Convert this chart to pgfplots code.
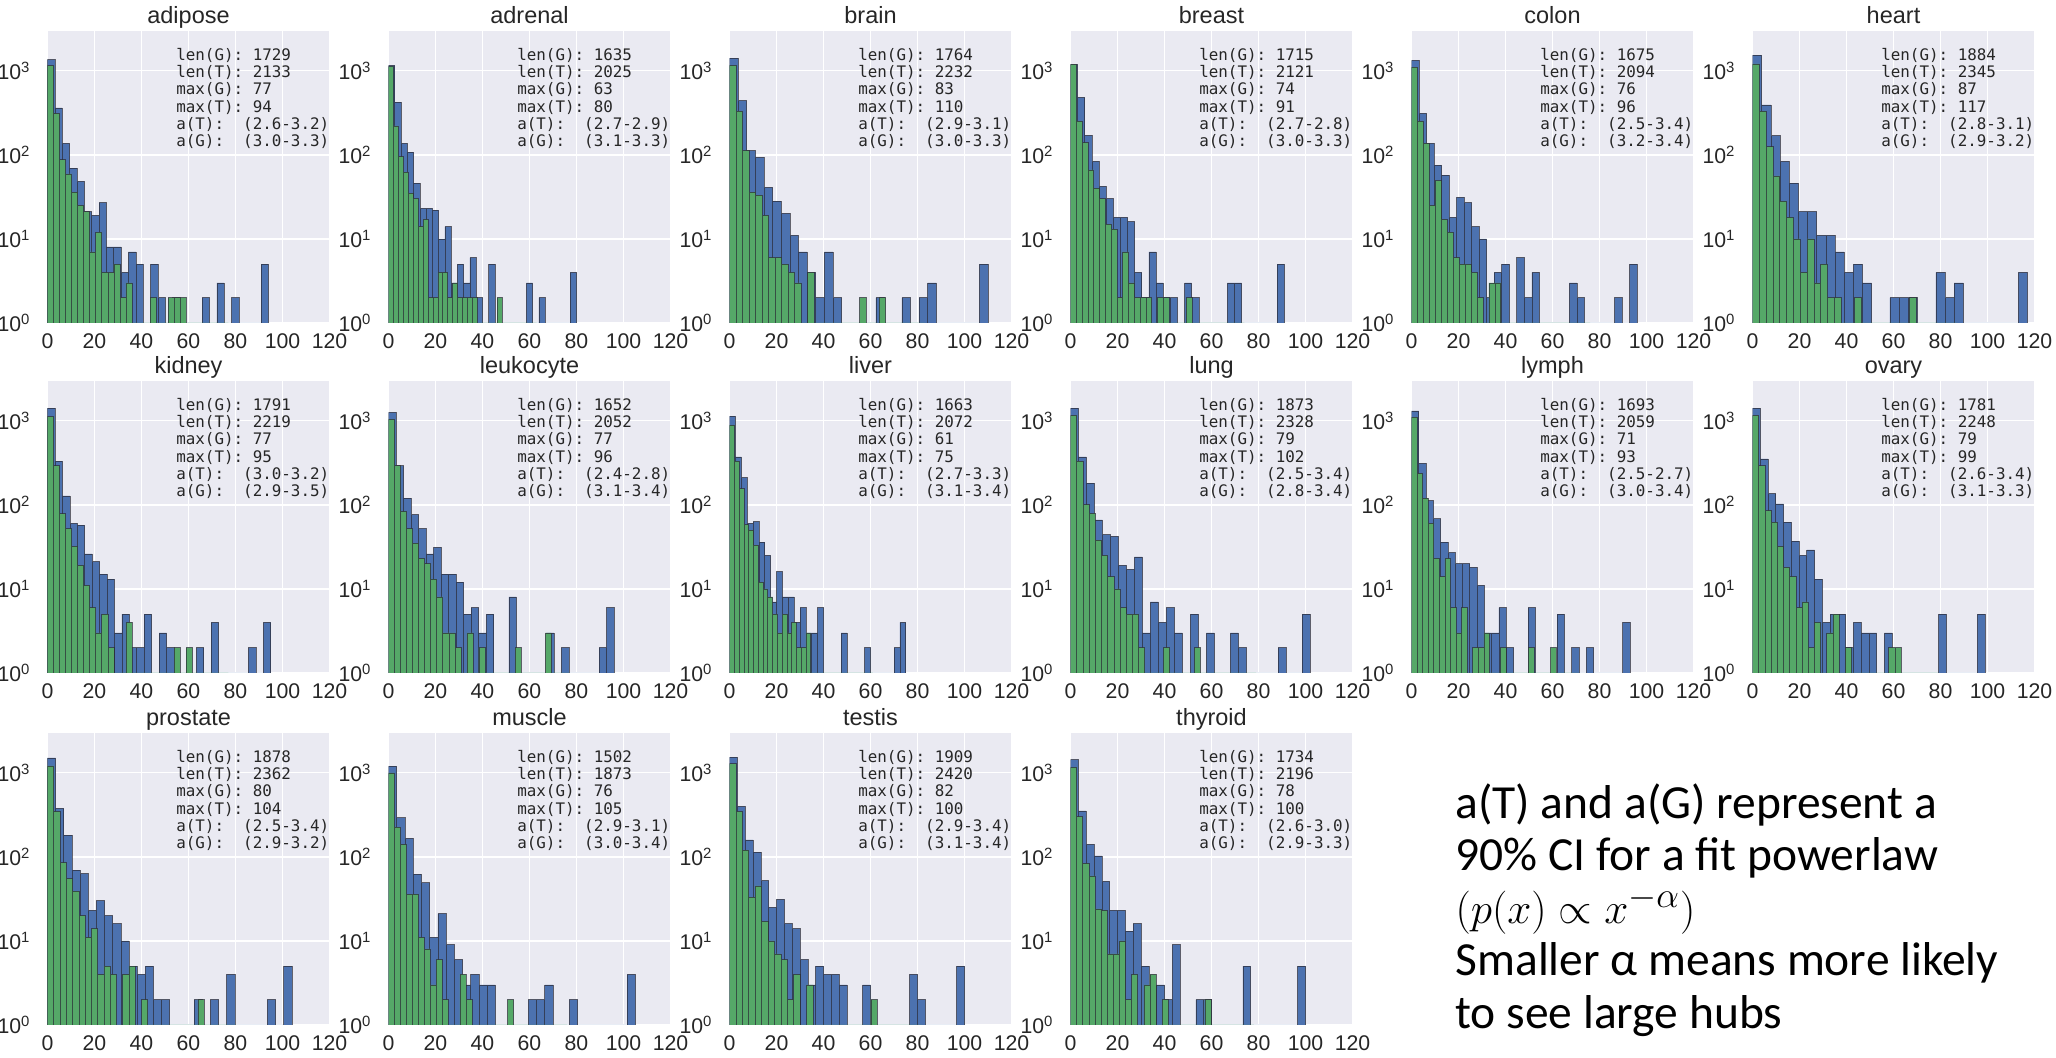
\documentclass[border=0pt]{standalone}
\usepackage{fontspec}
\setmainfont{Liberation Sans}
\newfontfamily\monof{DejaVu Sans Mono}
\newfontfamily\calf{Carlito}
\usepackage{pgfplots}
\pgfplotsset{compat=1.18}
\definecolor{bgc}{HTML}{EAEAF2}
\definecolor{tblue}{HTML}{4C72B0}
\definecolor{ggreen}{HTML}{55A868}
\definecolor{edgec}{HTML}{2A2A35}
\definecolor{tc}{HTML}{262626}
\pgfplotsset{
  hax/.style={
    scale only axis, width=112.8pt, height=116.8pt,
    xmin=0, xmax=120, ymin=1, ymax=2950,
    axis background/.style={fill=bgc},
    axis line style={draw=none},
    major tick length=0pt, tick style={draw=none},
    grid=major, major grid style={draw=white, line width=0.7pt},
    xtick={0,20,40,60,80,100,120},
    xticklabels={0,20,40,60,80,100,120},
    ytick={1,10,100,1000},
    yticklabels={10\textsuperscript{0},10\textsuperscript{1},10\textsuperscript{2},10\textsuperscript{3}},
    ticklabel style={font=\fontsize{8.5}{9}\selectfont, text=tc},
    xticklabel style={yshift=-0.6pt},
    yticklabel style={xshift=-3.2pt},
    every axis title/.style={font=\fontsize{9.4}{10}\selectfont, text=tc, at={(0.5,1)}, anchor=base, yshift=2.9pt},
  }
}
\newcommand{\TT}[2]{\addplot[ybar interval, fill=tblue, draw=edgec, draw opacity=0.7, line width=0.25pt] table[header=false, row sep=\\, x expr=\coordindex*#1, y index=0] {#2};}
\newcommand{\GG}[2]{\addplot[ybar interval, fill=ggreen, draw=edgec, draw opacity=0.7, line width=0.25pt] table[header=false, row sep=\\, x expr=\coordindex*#1, y index=0] {#2};}
\newcommand{\ann}[6]{\node[anchor=north west, inner sep=0pt, align=left, text=tc, font=\monof\fontsize{6.35}{6.9}\selectfont] at (rel axis cs:0.455,0.943) {len(G): #1\\len(T): #2\\max(G): #3\\max(T): #4\\a(T):\ \ (#5)\\a(G):\ \ (#6)};}
\begin{document}
\begin{tikzpicture}
\path[use as bounding box] (0,0) rectangle (822.4pt,423.2pt);
% ---------- row 1 ----------
\begin{axis}[ymode=log, hax, anchor=south west, at={(19pt,294pt)}, title={adipose}]
\TT{3.1333}{1350\\360\\136\\69\\48\\21\\19\\27\\8\\8\\4\\7\\5\\1\\5\\2\\1\\2\\1\\1\\1\\2\\1\\3\\1\\2\\1\\1\\1\\5\\1\\}
\GG{2.5667}{1140\\310\\87\\59\\36\\25\\21\\7\\12\\4\\4\\5\\2\\3\\1\\1\\1\\2\\1\\1\\2\\2\\2\\1\\1\\1\\1\\1\\1\\1\\1\\}
\ann{1729}{2133}{77}{94}{2.6-3.2}{3.0-3.3}
\end{axis}
\begin{axis}[ymode=log, hax, anchor=south west, at={(155.4pt,294pt)}, title={adrenal}]
\TT{2.6667}{1150\\420\\136\\107\\46\\23\\23\\22\\10\\14\\3\\5\\3\\6\\2\\1\\5\\1\\1\\1\\1\\1\\3\\1\\2\\1\\1\\1\\1\\4\\1\\}
\GG{2.1}{1120\\220\\95\\62\\35\\30\\14\\17\\2\\2\\4\\4\\2\\3\\2\\2\\2\\2\\1\\1\\1\\1\\2\\1\\1\\1\\1\\1\\1\\1\\1\\}
\ann{1635}{2025}{63}{80}{2.7-2.9}{3.1-3.3}
\end{axis}
\begin{axis}[ymode=log, hax, anchor=south west, at={(291.8pt,294pt)}, title={brain}]
\TT{3.6667}{1400\\440\\112\\93\\41\\28\\20\\11\\7\\4\\2\\7\\2\\1\\1\\1\\1\\2\\1\\1\\2\\1\\2\\3\\1\\1\\1\\1\\1\\5\\1\\}
\GG{2.7667}{1150\\330\\112\\36\\33\\19\\6\\6\\5\\4\\3\\1\\4\\1\\1\\1\\1\\1\\1\\1\\2\\1\\1\\2\\1\\1\\1\\1\\1\\1\\1\\}
\ann{1764}{2232}{83}{110}{2.9-3.1}{3.0-3.3}
\end{axis}
\begin{axis}[ymode=log, hax, anchor=south west, at={(428.2pt,294pt)}, title={breast}]
\TT{3.0333}{1180\\480\\170\\83\\42\\30\\18\\18\\16\\4\\2\\7\\3\\2\\2\\1\\3\\2\\1\\1\\1\\1\\3\\3\\1\\1\\1\\1\\1\\5\\1\\}
\GG{2.4667}{1180\\250\\139\\66\\40\\30\\15\\13\\2\\7\\3\\2\\2\\2\\1\\2\\2\\1\\1\\1\\2\\1\\1\\1\\1\\1\\1\\1\\1\\1\\1\\}
\ann{1715}{2121}{74}{91}{2.7-2.8}{3.0-3.3}
\end{axis}
\begin{axis}[ymode=log, hax, anchor=south west, at={(564.6pt,294pt)}, title={colon}]
\TT{3.2}{1320\\310\\136\\75\\57\\18\\31\\27\\14\\10\\2\\4\\5\\1\\6\\2\\4\\1\\1\\1\\1\\3\\2\\1\\1\\1\\1\\2\\1\\5\\1\\}
\GG{2.5333}{1100\\250\\136\\25\\49\\17\\12\\6\\5\\5\\4\\2\\1\\3\\3\\1\\1\\1\\1\\1\\1\\1\\1\\1\\1\\1\\1\\1\\1\\1\\1\\}
\ann{1675}{2094}{76}{96}{2.5-3.4}{3.2-3.4}
\end{axis}
\begin{axis}[ymode=log, hax, anchor=south west, at={(701pt,294pt)}, title={heart}]
\TT{3.9}{1520\\390\\168\\83\\46\\21\\21\\11\\11\\7\\4\\5\\3\\1\\1\\2\\2\\2\\1\\1\\4\\2\\3\\1\\1\\1\\1\\1\\1\\4\\1\\}
\GG{2.9}{1200\\330\\124\\56\\28\\18\\10\\4\\10\\3\\5\\2\\2\\1\\1\\2\\1\\1\\1\\1\\1\\1\\1\\2\\1\\1\\1\\1\\1\\1\\1\\}
\ann{1884}{2345}{87}{117}{2.8-3.1}{2.9-3.2}
\end{axis}
% ---------- row 2 ----------
\begin{axis}[ymode=log, hax, anchor=south west, at={(19pt,154pt)}, title={kidney}]
\TT{3.1667}{1400\\330\\127\\60\\57\\26\\21\\15\\13\\3\\5\\2\\2\\5\\1\\3\\2\\1\\1\\1\\2\\1\\4\\1\\1\\1\\1\\2\\1\\4\\1\\}
\GG{2.5667}{1110\\290\\78\\52\\32\\19\\11\\6\\3\\5\\2\\1\\1\\4\\1\\1\\1\\1\\1\\1\\1\\2\\1\\2\\1\\1\\1\\1\\1\\1\\1\\}
\ann{1791}{2219}{77}{95}{3.0-3.2}{2.9-3.5}
\end{axis}
\begin{axis}[ymode=log, hax, anchor=south west, at={(155.4pt,154pt)}, title={leukocyte}]
\TT{3.2}{1250\\290\\120\\76\\52\\26\\31\\15\\15\\12\\5\\6\\3\\5\\1\\1\\8\\1\\1\\1\\1\\3\\1\\2\\1\\1\\1\\1\\2\\6\\1\\}
\GG{2.5667}{1030\\290\\83\\52\\35\\23\\20\\13\\8\\3\\3\\2\\1\\3\\1\\2\\1\\1\\1\\1\\1\\2\\1\\1\\1\\1\\3\\1\\1\\1\\1\\}
\ann{1652}{2052}{77}{96}{2.4-2.8}{3.1-3.4}
\end{axis}
\begin{axis}[ymode=log, hax, anchor=south west, at={(291.8pt,154pt)}, title={liver}]
\TT{2.5}{1130\\370\\210\\60\\63\\36\\25\\7\\16\\8\\8\\4\\6\\3\\3\\6\\1\\1\\1\\3\\1\\1\\1\\2\\1\\1\\1\\1\\2\\4\\1\\}
\GG{2.0333}{880\\330\\155\\58\\50\\33\\12\\10\\8\\5\\3\\5\\3\\4\\2\\2\\3\\1\\1\\1\\1\\1\\1\\1\\1\\1\\1\\1\\1\\1\\1\\}
\ann{1663}{2072}{61}{75}{2.7-3.3}{3.1-3.4}
\end{axis}
\begin{axis}[ymode=log, hax, anchor=south west, at={(428.2pt,154pt)}, title={lung}]
\TT{3.4}{1400\\370\\180\\66\\44\\42\\19\\17\\24\\3\\7\\4\\6\\3\\1\\5\\1\\3\\1\\1\\3\\2\\1\\1\\1\\1\\2\\1\\1\\5\\1\\}
\GG{2.6333}{1150\\330\\100\\79\\38\\25\\14\\10\\6\\5\\5\\2\\1\\1\\1\\2\\1\\1\\1\\1\\2\\1\\1\\1\\1\\1\\1\\1\\1\\1\\1\\}
\ann{1873}{2328}{79}{102}{2.5-3.4}{2.8-3.4}
\end{axis}
\begin{axis}[ymode=log, hax, anchor=south west, at={(564.6pt,154pt)}, title={lymph}]
\TT{3.1}{1300\\310\\112\\68\\36\\27\\20\\20\\18\\11\\3\\3\\6\\2\\1\\1\\6\\1\\1\\1\\5\\1\\2\\1\\2\\1\\1\\1\\1\\4\\1\\}
\GG{2.3667}{1100\\235\\120\\60\\23\\14\\23\\6\\3\\6\\1\\2\\2\\3\\1\\1\\2\\1\\1\\1\\1\\2\\1\\1\\1\\2\\1\\1\\1\\1\\1\\}
\ann{1693}{2059}{71}{93}{2.5-2.7}{3.0-3.4}
\end{axis}
\begin{axis}[ymode=log, hax, anchor=south west, at={(701pt,154pt)}, title={ovary}]
\TT{3.3}{1400\\350\\135\\102\\62\\37\\25\\29\\13\\4\\5\\5\\2\\4\\3\\3\\1\\3\\1\\1\\1\\1\\1\\1\\5\\1\\1\\1\\1\\5\\1\\}
\GG{2.6333}{1150\\290\\85\\62\\32\\18\\14\\6\\7\\2\\4\\1\\3\\5\\1\\2\\1\\1\\1\\1\\1\\1\\2\\2\\1\\1\\1\\1\\1\\1\\1\\}
\ann{1781}{2248}{79}{99}{2.6-3.4}{3.1-3.3}
\end{axis}
% ---------- row 3 ----------
\begin{axis}[ymode=log, hax, anchor=south west, at={(19pt,13.2pt)}, title={prostate}]
\TT{3.4667}{1490\\375\\180\\69\\63\\23\\30\\20\\16\\10\\5\\4\\5\\2\\2\\1\\1\\1\\2\\1\\2\\1\\4\\1\\1\\1\\1\\2\\1\\5\\1\\}
\GG{2.6667}{1200\\345\\85\\55\\39\\20\\11\\14\\4\\5\\4\\1\\4\\5\\1\\2\\1\\1\\1\\1\\1\\1\\1\\1\\2\\1\\1\\1\\1\\1\\1\\}
\ann{1878}{2362}{80}{104}{2.5-3.4}{2.9-3.2}
\end{axis}
\begin{axis}[ymode=log, hax, anchor=south west, at={(155.4pt,13.2pt)}, title={muscle}]
\TT{3.5}{1190\\290\\165\\62\\49\\11\\21\\9\\6\\3\\4\\3\\3\\1\\1\\1\\1\\2\\2\\3\\1\\1\\2\\1\\1\\1\\1\\1\\1\\4\\1\\}
\GG{2.5333}{990\\225\\140\\36\\36\\11\\8\\3\\6\\2\\1\\1\\4\\2\\1\\1\\1\\1\\1\\1\\2\\1\\1\\1\\1\\1\\1\\1\\1\\1\\1\\}
\ann{1502}{1873}{76}{105}{2.9-3.1}{3.0-3.4}
\end{axis}
\begin{axis}[ymode=log, hax, anchor=south west, at={(291.8pt,13.2pt)}, title={testis}]
\TT{3.3333}{1520\\395\\158\\113\\52\\25\\31\\16\\14\\6\\3\\5\\4\\4\\3\\1\\1\\3\\1\\1\\1\\1\\1\\4\\2\\1\\1\\1\\1\\5\\1\\}
\GG{2.7333}{1270\\345\\120\\33\\45\\17\\10\\7\\6\\2\\4\\1\\3\\1\\1\\1\\1\\1\\1\\1\\1\\1\\2\\1\\1\\1\\1\\1\\1\\1\\1\\}
\ann{1909}{2420}{82}{100}{2.9-3.4}{3.1-3.4}
\end{axis}
\begin{axis}[ymode=log, hax, anchor=south west, at={(428.2pt,13.2pt)}, title={thyroid}]
\TT{3.3333}{1420\\350\\140\\102\\51\\23\\23\\13\\16\\5\\3\\3\\2\\9\\1\\1\\2\\2\\1\\1\\1\\1\\5\\1\\1\\1\\1\\1\\1\\5\\1\\}
\GG{2.6}{1150\\300\\83\\59\\24\\23\\7\\7\\10\\2\\4\\1\\3\\4\\1\\2\\1\\1\\1\\1\\1\\1\\2\\1\\1\\1\\1\\1\\1\\1\\1\\}
\ann{1734}{2196}{78}{100}{2.6-3.0}{2.9-3.3}
\end{axis}
% ---------- note ----------
\begin{scope}[every node/.style={anchor=base west, inner sep=0pt, font=\calf\fontsize{19}{22}\selectfont}]
\node at (582pt,95.8pt) {a(T) and a(G) represent a};
\node at (582pt,74.8pt) {90\% CI for a fit powerlaw};
\node at (582pt,53.8pt) {$(p(x)\propto x^{-\alpha})$};
\node at (582pt,32.8pt) {Smaller α means more likely};
\node at (582pt,11.8pt) {to see large hubs};
\end{scope}
\end{tikzpicture}
\end{document}
